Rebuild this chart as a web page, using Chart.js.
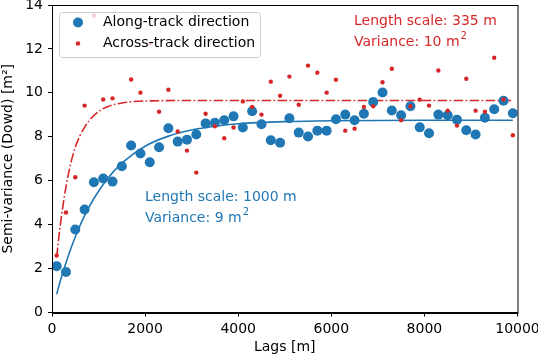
<!DOCTYPE html>
<html><head><meta charset="utf-8">
<script src="https://cdn.jsdelivr.net/npm/chart.js@4.4.0/dist/chart.umd.min.js"></script>
<style>html,body{margin:0;padding:0;background:#fff}#wrap{width:538px;height:355px}</style>
</head><body><div id="wrap"><canvas id="c" width="538" height="355"></canvas></div>
<script>
// Lags (m) at which semi-variance was sampled
const lags = [100,300,500,700,900,1100,1300,1500,1700,1900,2100,2300,2500,2700,2900,3100,3300,3500,3700,3900,4100,4300,4500,4700,4900,5100,5300,5500,5700,5900,6100,6300,6500,6700,6900,7100,7300,7500,7700,7900,8100,8300,8500,8700,8900,9100,9300,9500,9700,9900];
const alongTrack = [2.11,1.84,3.78,4.69,5.93,6.10,5.96,6.66,7.60,7.24,6.84,7.52,8.39,7.78,7.87,8.10,8.61,8.64,8.75,8.93,8.42,9.16,8.57,7.84,7.73,8.84,8.19,8.01,8.28,8.28,8.80,9.01,8.75,9.05,9.58,10.02,9.20,8.98,9.39,8.43,8.16,9.01,8.98,8.78,8.30,8.10,8.87,9.25,9.64,9.07];
const acrossTrack = [2.60,4.55,6.16,9.42,13.52,9.70,9.75,null,10.61,10.01,12.24,9.14,10.14,8.24,7.37,6.37,9.05,8.48,7.93,8.42,9.61,9.36,9.01,10.51,9.87,10.74,9.46,11.24,10.92,10.01,10.60,8.28,8.37,9.36,9.39,10.48,11.10,8.75,9.39,9.69,9.42,11.02,9.19,8.51,10.64,9.19,9.14,11.60,9.70,8.07];
// Fitted model curves
const alongFitLags = [100,200,300,400,500,700,900,1200,1500,2000,2500,3000,3500,4000,5000,6000,8000,9900];
const alongFitVals = [0.83,1.59,2.27,2.88,3.44,4.41,5.19,6.11,6.80,7.57,8.03,8.31,8.48,8.59,8.69,8.73,8.75,8.75];
const acrossFitLags = [100,150,200,300,400,500,600,700,800,1000,1200,1500,2000,3000,9900];
const acrossFitVals = [2.51,3.48,4.33,5.72,6.76,7.52,8.04,8.43,8.74,9.15,9.38,9.54,9.63,9.65,9.65];
const xTicks = [0,2000,4000,6000,8000,10000];
const yTicks = [0,2,4,6,8,10,12,14];
const legendLabels = ['Along-track direction','Across-track direction'];
const alongNote = ['Length scale: 1000 m','Variance: 9 m'];
const acrossNote = ['Length scale: 335 m','Variance: 10 m'];

const BLUE='#1f77b4', RED='#d62728';
const FONT='"DejaVu Sans", sans-serif';
const FS=14;
Chart.defaults.font.family = FONT;
Chart.defaults.font.size = FS;
Chart.defaults.color = '#000';

const pts = (xs, ys) => xs.map((x,i)=>({x, y: ys[i]}));
const noPad = s => { s.paddingLeft=0; s.paddingRight=0; s.paddingTop=0; s.paddingBottom=0; };

const overlay = {
  id:'overlay',
  afterDatasetsDraw(chart){
    const {ctx, chartArea:a} = chart;
    ctx.save();
    ctx.strokeStyle='#000'; ctx.lineWidth=1;
    ctx.strokeRect(Math.round(a.left)+0.5, Math.round(a.top)+0.5, Math.round(a.right-a.left)-0.5, Math.round(a.bottom-a.top));
    const note=(lines,x,y,color)=>{
      ctx.fillStyle=color; ctx.font=FS+'px '+FONT; ctx.textBaseline='middle'; ctx.textAlign='left';
      ctx.fillText(lines[0],x,y);
      ctx.fillText(lines[1],x,y+20.5);
      const w=ctx.measureText(lines[1]).width;
      ctx.font='10px '+FONT;
      ctx.fillText('2',x+w+1,y+15);
    };
    note(alongNote,145,197.5,BLUE);
    note(acrossNote,354,21.5,RED);
    const lx=59.5, ly=12.5, lw=201, lh=45, r=3;
    ctx.beginPath();
    ctx.moveTo(lx+r,ly); ctx.lineTo(lx+lw-r,ly); ctx.quadraticCurveTo(lx+lw,ly,lx+lw,ly+r);
    ctx.lineTo(lx+lw,ly+lh-r); ctx.quadraticCurveTo(lx+lw,ly+lh,lx+lw-r,ly+lh);
    ctx.lineTo(lx+r,ly+lh); ctx.quadraticCurveTo(lx,ly+lh,lx,ly+lh-r);
    ctx.lineTo(lx,ly+r); ctx.quadraticCurveTo(lx,ly,lx+r,ly); ctx.closePath();
    ctx.fillStyle='rgba(255,255,255,0.8)'; ctx.fill();
    ctx.strokeStyle='#cccccc'; ctx.lineWidth=1; ctx.stroke();
    ctx.fillStyle=BLUE; ctx.beginPath(); ctx.arc(78,22.5,5,0,Math.PI*2); ctx.fill();
    ctx.fillStyle=RED; ctx.beginPath(); ctx.arc(78,43.5,2.2,0,Math.PI*2); ctx.fill();
    ctx.fillStyle='#000'; ctx.font=FS+'px '+FONT; ctx.textBaseline='middle';
    ctx.fillText(legendLabels[0],103,22);
    ctx.fillText(legendLabels[1],103,43);
    ctx.restore();
  }
};

new Chart(document.getElementById('c'), {
  type:'scatter',
  data:{datasets:[
    {label:legendLabels[1], data:pts(lags,acrossTrack), backgroundColor:RED, borderColor:RED, pointRadius:2.2, pointBorderWidth:0, order:0},
    {label:legendLabels[0], data:pts(lags,alongTrack), backgroundColor:BLUE, borderColor:BLUE, pointRadius:5, pointBorderWidth:0, order:1},
    {type:'line', data:pts(alongFitLags,alongFitVals), borderColor:BLUE, borderWidth:1.6, pointRadius:0, cubicInterpolationMode:'monotone', fill:false, order:2},
    {type:'line', data:pts(acrossFitLags,acrossFitVals), borderColor:RED, borderWidth:1.6, borderDash:[9.6,2.4,1.6,2.4], pointRadius:0, cubicInterpolationMode:'monotone', fill:false, order:2}
  ]},
  options:{
    responsive:false, animation:false, devicePixelRatio:1,
    layout:{padding:{top:4.5,right:20.5,left:0,bottom:0}},
    plugins:{legend:{display:false}, tooltip:{enabled:false}},
    scales:{
      x:{type:'linear', min:0, max:10000,
        afterBuildTicks:s=>{s.ticks=xTicks.map(v=>({value:v}));},
        afterFit:s=>{s.height=42.5; noPad(s);},
        ticks:{padding:4, maxRotation:0, color:'#000', callback:v=>String(v)},
        grid:{drawOnChartArea:false, drawTicks:true, tickLength:4, color:'#000'},
        border:{display:true, color:'#000'},
        title:{display:true, text:'Lags [m]', color:'#000', font:{lineHeight:1.05}, padding:{top:0,bottom:0}}
      },
      y:{type:'linear', min:0, max:14,
        afterBuildTicks:s=>{s.ticks=yTicks.map(v=>({value:v}));},
        afterFit:s=>{s.width=52; noPad(s);},
        ticks:{padding:5, color:'#000', callback:v=>String(v)},
        grid:{drawOnChartArea:false, drawTicks:true, tickLength:4, color:'#000'},
        border:{display:true, color:'#000'},
        title:{display:true, text:'Semi-variance (Dowd) [m²]', color:'#000', padding:{top:0,bottom:0}}
      }
    }
  },
  plugins:[overlay]
});
</script></body></html>
